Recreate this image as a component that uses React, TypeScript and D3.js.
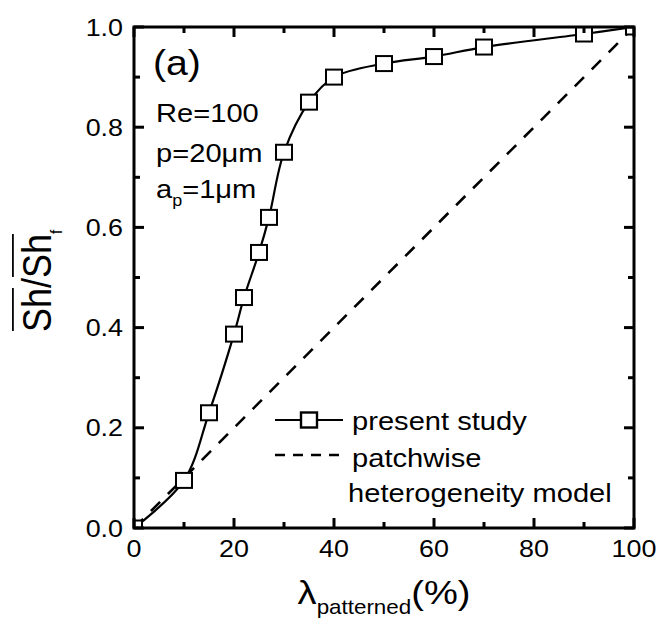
import React from "react";
import * as d3 from "d3";

const lambdaPct = [0, 10, 15, 20, 22, 25, 27, 30, 35, 40, 50, 60, 70, 90, 100];
const shRatio = [0, 0.095, 0.23, 0.387, 0.46, 0.55, 0.62, 0.75, 0.85, 0.9, 0.927, 0.941, 0.96, 0.986, 1.0];
const modelX = [0, 100];
const modelY = [0, 1];
const xMajor = [0, 20, 40, 60, 80, 100];
const xMinor = [10, 30, 50, 70, 90];
const yMajor = [0, 0.2, 0.4, 0.6, 0.8, 1.0];
const yMinor = [0.1, 0.3, 0.5, 0.7, 0.9];
const legendLabels = ["present study", "patchwise", "heterogeneity model"];

const W = 659, H = 621;
const L = 134, R = 634, T = 27, B = 528;
const SX = 1.12;
const FONT = "'Liberation Sans', Arial, Helvetica, sans-serif";

export default function App() {
  const x = d3.scaleLinear().domain([0, 100]).range([L, R]);
  const y = d3.scaleLinear().domain([0, 1]).range([B, T]);
  const pts = lambdaPct.map((v, i) => [v, shRatio[i]] as [number, number]);
  const line = d3.line<[number, number]>().x(d => x(d[0])).y(d => y(d[1])).curve(d3.curveCatmullRom.alpha(0.5));
  const modelPts = modelX.map((v, i) => [v, modelY[i]] as [number, number]);
  const lineLin = d3.line<[number, number]>().x(d => x(d[0])).y(d => y(d[1]));
  const MW = 16, MH = 15;
  const tickMaj = 10, tickMin = 6;

  return (
    <svg width={W} height={H} style={{ position: "absolute", left: 0, top: 0, background: "#fff" }} fontFamily={FONT}>
      <defs>
        <clipPath id="plotclip">
          <rect x={L} y={T} width={R - L} height={B - T} />
        </clipPath>
      </defs>
      <rect x={0} y={0} width={W} height={H} fill="#fff" />
      {/* dashed model line */}
      <path d={lineLin(modelPts) || ""} fill="none" stroke="#000" strokeWidth={2.6} strokeDasharray="13,11" clipPath="url(#plotclip)" />
      {/* curve */}
      <path d={line(pts) || ""} fill="none" stroke="#000" strokeWidth={2.2} clipPath="url(#plotclip)" />
      <g clipPath="url(#plotclip)">
        {pts.map((d, i) => (
          <rect key={i} x={x(d[0]) - MW / 2} y={y(d[1]) - MH / 2} width={MW} height={MH} fill="#fff" stroke="#000" strokeWidth={2} />
        ))}
      </g>
      {/* ticks */}
      <g stroke="#000" strokeWidth={3}>
        {xMajor.map(v => (
          <g key={"xM" + v}>
            <line x1={x(v)} x2={x(v)} y1={B} y2={B - tickMaj} />
            <line x1={x(v)} x2={x(v)} y1={T} y2={T + tickMaj} />
          </g>
        ))}
        {xMinor.map(v => (
          <g key={"xm" + v}>
            <line x1={x(v)} x2={x(v)} y1={B} y2={B - tickMin} />
            <line x1={x(v)} x2={x(v)} y1={T} y2={T + tickMin} />
          </g>
        ))}
        {yMajor.map(v => (
          <g key={"yM" + v}>
            <line x1={L} x2={L + tickMaj} y1={y(v)} y2={y(v)} />
            <line x1={R} x2={R - tickMaj} y1={y(v)} y2={y(v)} />
          </g>
        ))}
        {yMinor.map(v => (
          <g key={"ym" + v}>
            <line x1={L} x2={L + tickMin} y1={y(v)} y2={y(v)} />
            <line x1={R} x2={R - tickMin} y1={y(v)} y2={y(v)} />
          </g>
        ))}
      </g>
      <rect x={L} y={T} width={R - L} height={B - T} fill="none" stroke="#000" strokeWidth={3} />
      {/* tick labels */}
      {xMajor.map(v => (
        <text key={"xl" + v} transform={`translate(${x(v)},${B + 29}) scale(${SX},1)`} textAnchor="middle" fontSize={24}>
          {String(v)}
        </text>
      ))}
      {yMajor.map(v => (
        <text key={"yl" + v} transform={`translate(123,${y(v) + 8.5}) scale(${SX},1)`} textAnchor="end" fontSize={24}>
          {v.toFixed(1)}
        </text>
      ))}
      {/* x title */}
      <text transform={`translate(384,604) scale(${SX},1)`} textAnchor="middle" fontSize={34}>
        λ<tspan fontSize={20} dy={10}>patterned</tspan><tspan dy={-10}>(%)</tspan>
      </text>
      {/* y title */}
      <g transform={`translate(51,332) scale(${SX},1) rotate(-90)`}>
        <text x={0} y={0} fontSize={36}>
          Sh/Sh<tspan fontSize={15} dy={10}>f</tspan>
        </text>
        <line x1={1} x2={44} y1={-34} y2={-34} stroke="#000" strokeWidth={1.6} />
        <line x1={55} x2={98} y1={-34} y2={-34} stroke="#000" strokeWidth={1.6} />
      </g>
      {/* annotations */}
      <text transform={`translate(153,75) scale(${SX},1)`} fontSize={35}>(a)</text>
      <text transform={`translate(156,122) scale(${SX},1)`} fontSize={26}>Re=100</text>
      <text transform={`translate(156,162) scale(${SX},1)`} fontSize={26}>p=20μm</text>
      <text transform={`translate(156,198) scale(${SX},1)`} fontSize={26}>
        a<tspan fontSize={16} dy={8}>p</tspan><tspan dy={-8}>=1μm</tspan>
      </text>
      {/* legend */}
      <line x1={275} x2={343} y1={420} y2={420} stroke="#000" strokeWidth={2.2} />
      <rect x={309 - MW / 2} y={420 - MH / 2} width={MW} height={MH} fill="#fff" stroke="#000" strokeWidth={2.4} />
      <line x1={275} x2={343} y1={455} y2={455} stroke="#000" strokeWidth={2.6} strokeDasharray="10,8" />
      <text transform={`translate(352,430) scale(${SX},1)`} fontSize={26}>{legendLabels[0]}</text>
      <text transform={`translate(352,467) scale(${SX},1)`} fontSize={26}>{legendLabels[1]}</text>
      <text transform={`translate(348,502) scale(${SX},1)`} fontSize={26}>{legendLabels[2]}</text>
    </svg>
  );
}
